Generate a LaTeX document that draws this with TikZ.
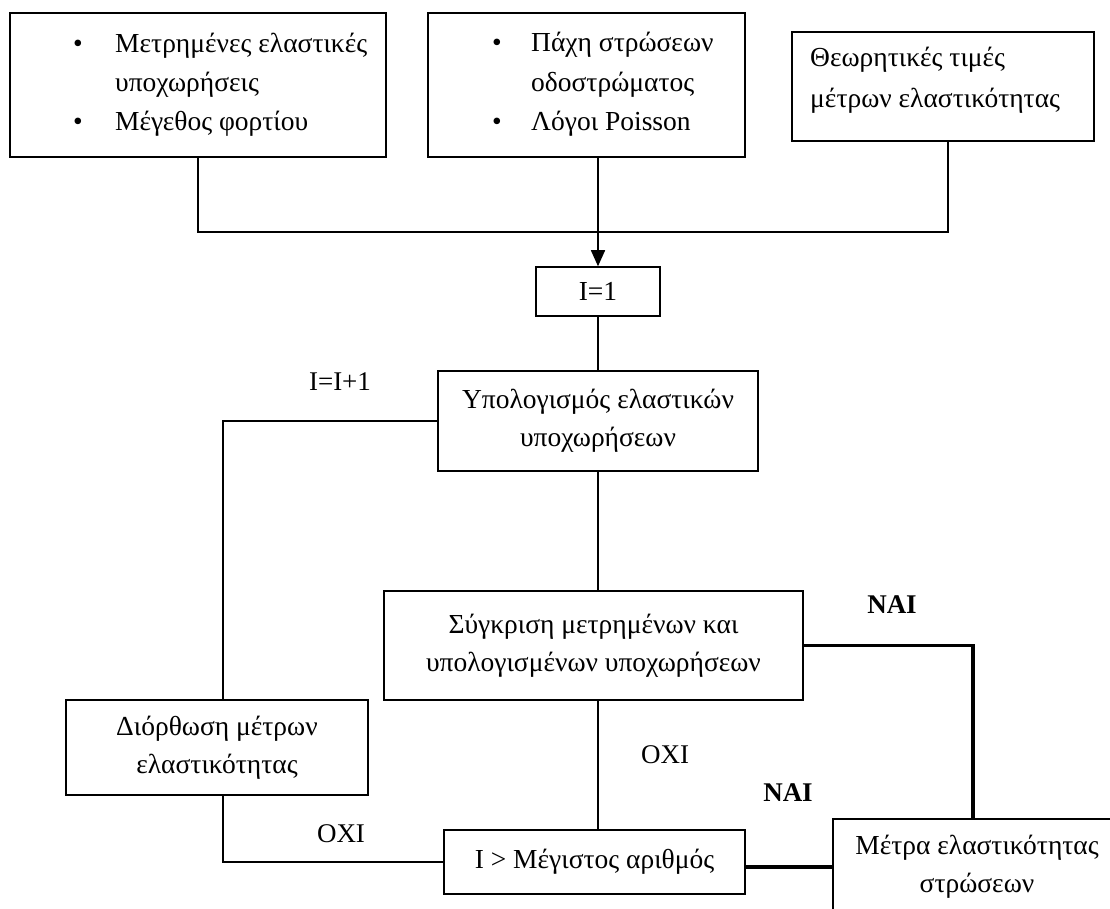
\documentclass[tikz,border=0pt]{standalone}
\usepackage{fontspec}
\setmainfont{Liberation Serif}
\usetikzlibrary{arrows.meta}
\tikzset{
  box/.style={draw, line width=1.5pt, inner sep=0pt, align=center,
              font=\fontsize{27.5}{38}\selectfont},
  txt/.style={inner sep=0pt, anchor=base west, font=\fontsize{27.5}{39}\selectfont},
  lbl/.style={inner sep=0pt, anchor=base, font=\fontsize{27}{38}\selectfont},
  boldlbl/.style={lbl, font=\fontsize{27}{38}\selectfont\bfseries},
  link/.style={line width=1.5pt},
  strong/.style={line width=3.2pt},
  tip/.style={-{Triangle[width=14pt,length=16pt]}}
}
\begin{document}
\begin{tikzpicture}[x=1pt,y=-1pt]
\useasboundingbox (0,0) rectangle (1110,909);
\clip (0,0) rectangle (1110,909);
\fill[white] (0,0) rectangle (1110,909);

% input boxes
\node[box, minimum width=376pt, minimum height=144pt] (b1) at (198,85) {};
\node[box, minimum width=317pt, minimum height=144pt] (b2) at (586.5,85) {};
\node[box, minimum width=302pt, minimum height=109pt] (b3) at (943,86.5) {};

\node[txt] (b1u1) at (73,53) {•};
\node[txt] (b1l1) at (115,53) {Μετρημένες ελαστικές};
\node[txt] (b1l2) at (115,92) {υποχωρήσεις};
\node[txt] (b1u2) at (73,131) {•};
\node[txt] (b1l3) at (115,131) {Μέγεθος φορτίου};

\node[txt] (b2u1) at (492,52) {•};
\node[txt] (b2l1) at (531,52) {Πάχη στρώσεων};
\node[txt] (b2l2) at (531,92) {οδοστρώματος};
\node[txt] (b2u2) at (492,131) {•};
\node[txt] (b2l3) at (531,131) {Λόγοι Poisson};

\node[txt] (b3l1) at (810,67) {Θεωρητικές τιμές};
\node[txt] (b3l2) at (810,108) {μέτρων ελαστικότητας};

% process boxes
\node[box, minimum width=124pt, minimum height=49pt] (i1) at (598,291.5) {I=1};
\node[box, minimum width=320pt, minimum height=100pt] (calc) at (598,421) {Υπολογισμός ελαστικών\\υποχωρήσεων};
\node[box, minimum width=419pt, minimum height=109pt] (comp) at (593.5,645.5) {Σύγκριση μετρημένων και\\υπολογισμένων υποχωρήσεων};
\node[box, minimum width=302pt, minimum height=95pt] (corr) at (217,747.5) {Διόρθωση μέτρων\\ελαστικότητας};
\node[box, minimum width=301pt, minimum height=64pt] (imax) at (594.5,862) {I > Μέγιστος αριθμός};
\node[box, minimum width=288pt, minimum height=96pt] (res) at (977,867) {Μέτρα ελαστικότητας\\στρώσεων};

% connectors
\coordinate (join) at (598,232);
\draw[link] (b1.south) |- (join) -| ([xshift=5pt]b3.south);
\draw[link, tip] (b2.south -| i1.north) -- (i1.north);
\draw[link] (i1.south) -- (calc.north);
\draw[link] (calc.south) -- (calc.south |- comp.north);
\draw[link] (comp.south -| calc.south) -- (imax.north -| calc.south);
\draw[link] (calc.west) -| ([xshift=6pt]corr.north);
\draw[link] ([xshift=6pt]corr.south) |- (imax.west);
\draw[strong] (comp.east) -| ([xshift=-4pt]res.north);
\draw[strong] (imax.east |- res.west) -- (res.west);

% branch labels
\node[lbl] (inc) at (340,390) {I=I+1};
\node[lbl] (no1) at (665,763) {ΟΧΙ};
\node[lbl] (no2) at (341,842) {ΟΧΙ};
\node[boldlbl] (yes1) at (892,613) {ΝΑΙ};
\node[boldlbl] (yes2) at (788,801) {ΝΑΙ};
\end{tikzpicture}
\end{document}
